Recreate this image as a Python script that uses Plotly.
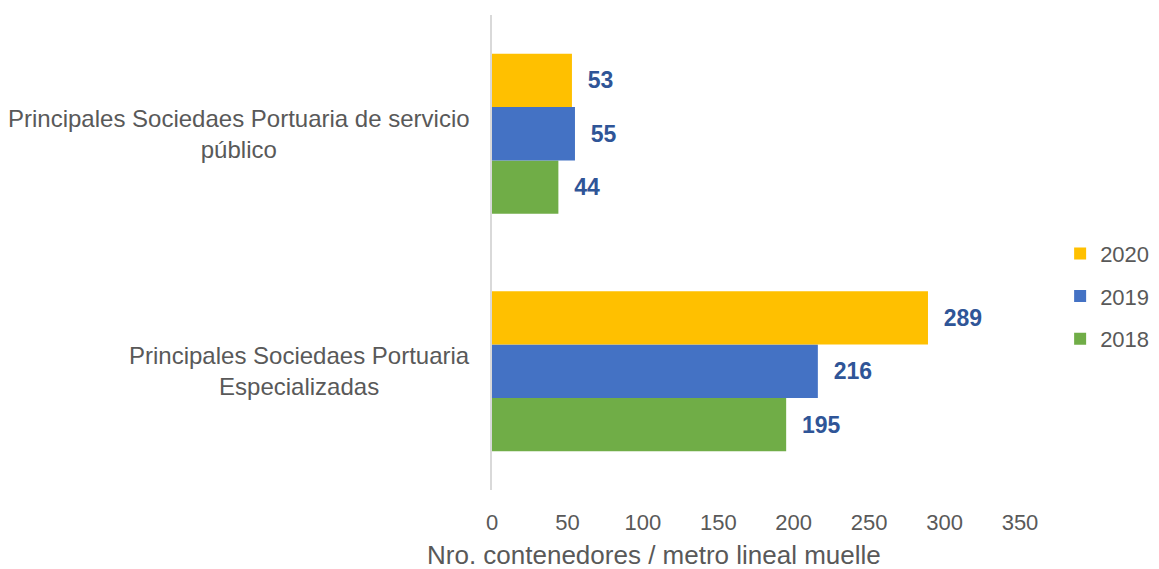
import plotly.graph_objects as go

categories = ["Principales Sociedaes Portuaria<br>Especializadas",
              "Principales Sociedaes Portuaria de servicio<br>público"]
years = ["2018", "2019", "2020"]
values = {
    "2018": [195, 44],
    "2019": [216, 55],
    "2020": [289, 53],
}
colors = {"2018": "#70AD47", "2019": "#4472C4", "2020": "#FFC000"}
legend_rank = {"2020": 1, "2019": 2, "2018": 3}
tick_vals = [0, 50, 100, 150, 200, 250, 300, 350]
x_title = "Nro. contenedores / metro lineal muelle"

FONT = "Liberation Sans, Arial, sans-serif"

fig = go.Figure()
for yr in years:
    fig.add_trace(go.Bar(
        y=categories, x=values[yr], name=yr, orientation="h",
        legendgroup=yr, legendrank=legend_rank[yr],
        marker=dict(color=colors[yr], line=dict(width=0)),
        text=values[yr],
        texttemplate="\u00a0\u00a0%{x}",
        textposition="outside",
        textfont=dict(family=FONT, size=23, color="#2F5597", weight="bold"),
        cliponaxis=False,
    ))

for c in categories:
    fig.add_annotation(
        x=0, xref="paper", y=c, yref="y", xanchor="right", xshift=-20,
        text=c, showarrow=False, align="center",
        font=dict(family=FONT, size=24, color="#595959"),
    )

# axis title (offset to the left like the original)
fig.add_annotation(
    x=0.307, xref="paper", y=-0.136, yref="paper", xanchor="center", yanchor="middle",
    text=x_title, showarrow=False,
    font=dict(family=FONT, size=26, color="#595959"),
)

fig.update_layout(
    width=1151, height=561,
    margin=dict(l=484, r=139, t=7, b=79, autoexpand=False),
    paper_bgcolor="white", plot_bgcolor="white",
    barmode="group", bargap=0.326, bargroupgap=0,
    font=dict(family=FONT, color="#595959"),
    legend=dict(
        traceorder="grouped", x=1.076, y=0.408, xanchor="left", yanchor="middle",
        font=dict(family=FONT, size=22, color="#595959"),
        itemwidth=30, tracegroupgap=11,
    ),
    xaxis=dict(
        range=[0, 350], tickvals=tick_vals, showgrid=False, zeroline=False,
        showline=False, tickfont=dict(family=FONT, size=22, color="#595959"),
        ticks="", ticklabelstandoff=17,
    ),
    yaxis=dict(
        showticklabels=False, showgrid=False, zeroline=False,
        showline=True, linecolor="#D9D9D9", linewidth=2, ticks="",
    ),
)

fig.write_html("out.html")
